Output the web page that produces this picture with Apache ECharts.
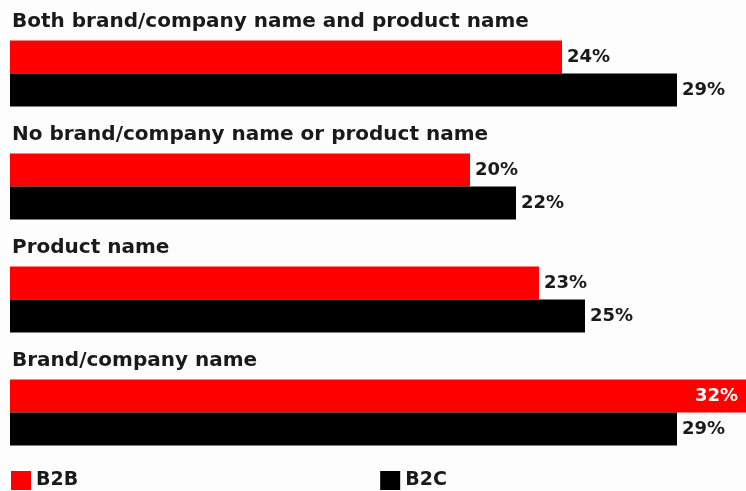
<!DOCTYPE html>
<html><head><meta charset="utf-8">
<script src="https://cdn.jsdelivr.net/npm/echarts@6/dist/echarts.min.js"></script>
<style>html,body{margin:0;padding:0;background:#fdfdfd;}#c{width:746px;height:491px;}</style>
</head><body><div id="c"></div>
<script>
const categories = ["Both brand/company name and product name","No brand/company name or product name","Product name","Brand/company name"];
const b2b = [24, 20, 23, 32];
const b2c = [29, 22, 25, 29];
const seriesNames = ["B2B", "B2C"];
const xMax = 32;

const FONT = '"DejaVu Sans", Verdana, sans-serif';
const labelBase = {show: true, position: 'right', distance: 5, formatter: '{c}%',
  fontFamily: FONT, fontWeight: 'bold', fontSize: 18, color: '#1a1a1a'};
function items(arr) {
  return arr.map(v => v >= xMax
    ? {value: v, label: {position: 'insideRight', distance: 8, color: '#ffffff'}}
    : v);
}
const chart = echarts.init(document.getElementById('c'));
chart.setOption({
  backgroundColor: '#fdfdfd',
  animation: false,
  grid: {left: 10, right: 0, top: 17, bottom: 22, containLabel: false},
  xAxis: {type: 'value', min: 0, max: xMax, show: false},
  yAxis: {
    type: 'category', data: categories, inverse: true,
    axisLine: {show: false}, axisTick: {show: false}, splitLine: {show: false},
    axisLabel: {inside: true, margin: 2, verticalAlign: 'bottom', padding: [0,0,42,0],
      fontFamily: FONT, fontWeight: 'bold', fontSize: 20, color: '#1a1a1a'}
  },
  legend: {
    left: 11, bottom: 1, itemWidth: 20, itemHeight: 19, itemGap: 302, icon: 'rect',
    data: seriesNames, padding: 0,
    textStyle: {fontFamily: FONT, fontWeight: 'bold', fontSize: 19, color: '#1a1a1a'}
  },
  series: [
    {name: seriesNames[0], type: 'bar', data: items(b2b), barWidth: 33, barGap: '0%',
     itemStyle: {color: '#ff0000'}, label: labelBase},
    {name: seriesNames[1], type: 'bar', data: items(b2c), barWidth: 33, barGap: '0%',
     itemStyle: {color: '#000000'}, label: labelBase}
  ]
});
</script></body></html>
